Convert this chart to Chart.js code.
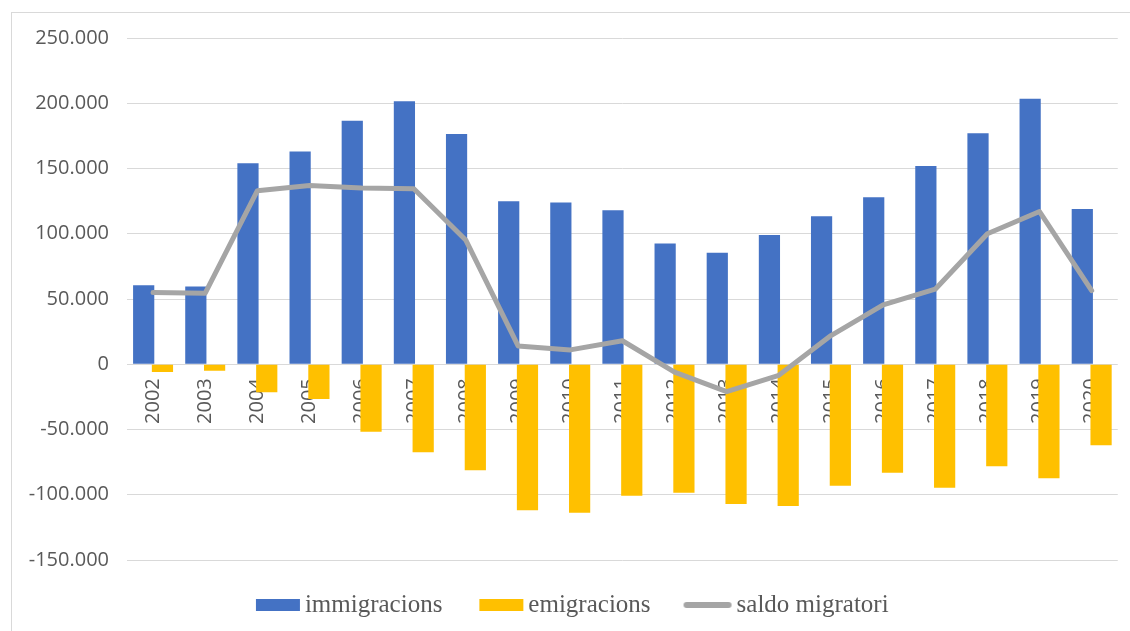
<!DOCTYPE html>
<html>
<head>
<meta charset="utf-8">
<script src="https://cdn.jsdelivr.net/npm/chart.js@4.4.1/dist/chart.umd.min.js"></script>
<style>
  body { margin: 0; background: #fff; overflow: hidden; }
  #frame { position: absolute; left: 11px; top: 12px; width: 1200px; height: 700px; border: 1px solid #d9d9d9; }
  #wrap { position: absolute; left: 0; top: 0; width: 1130px; height: 631px; }
</style>
</head>
<body>
<div id="frame"></div>
<div id="wrap"><canvas id="chart" width="1130" height="631"></canvas></div>
<script>
const years = ['2002', '2003', '2004', '2005', '2006', '2007', '2008', '2009', '2010', '2011',
  '2012', '2013', '2014', '2015', '2016', '2017', '2018', '2019', '2020'];
const immigracions = [60500, 59500, 154000, 163000, 186500, 201500, 176500, 125000, 124000, 118000,
  92500, 85500, 99000, 113500, 128000, 152000, 177000, 203500, 119000];
const emigracions = [-5900, -4900, -21500, -26600, -51700, -67500, -81300, -111800, -113800, -100800,
  -98500, -107100, -108700, -93100, -83100, -94600, -78200, -87400, -62100];
const saldo = [55000, 54500, 133000, 137000, 135000, 134500, 95000, 14000, 11000, 18000,
  -6000, -21000, -8500, 22000, 45500, 57500, 100000, 117000, 56500];
const labels = ['immigracions', 'emigracions', 'saldo migratori'];

const BLUE = '#4472c4', GOLD = '#ffc000', GREY = '#a5a5a5', TEXT = '#595959';
const SANS = '"Open Sans", sans-serif';
const SERIF = '"Liberation Serif", serif';

// legend swatches drawn on small canvases so the gaps match the original
function swatch(offset, w, h, color, isLine) {
  const c = document.createElement('canvas');
  c.width = 70; c.height = h;
  const g = c.getContext('2d');
  if (isLine) {
    g.strokeStyle = color; g.lineWidth = h; g.lineCap = 'round';
    g.beginPath(); g.moveTo(offset + h / 2, h / 2); g.lineTo(offset + w - h / 2, h / 2); g.stroke();
  } else {
    g.fillStyle = color; g.fillRect(offset, 0, w, h);
  }
  return c;
}
const swatches = [swatch(19, 44, 12, BLUE), swatch(19, 44, 12, GOLD), swatch(15, 48, 6, GREY, true)];

function fmt(v) {
  const s = String(Math.abs(v)).replace(/\B(?=(\d{3})+(?!\d))/g, '.');
  return v < 0 ? '-' + s : s;
}

function draw() {
  new Chart(document.getElementById('chart'), {
    type: 'bar',
    data: {
      labels: years,
      datasets: [
        { label: labels[0], data: immigracions, backgroundColor: BLUE, order: 1,
          categoryPercentage: 0.72, barPercentage: 1.13 },
        { label: labels[1], data: emigracions, backgroundColor: GOLD, order: 1,
          categoryPercentage: 0.72, barPercentage: 1.13 },
        { type: 'line', label: labels[2], data: saldo, borderColor: GREY, backgroundColor: GREY,
          borderWidth: 5, pointRadius: 0, tension: 0, borderJoinStyle: 'round', borderCapStyle: 'round', order: 0 }
      ]
    },
    options: {
      responsive: false,
      animation: false,
      devicePixelRatio: 1,
      layout: { padding: { left: 22, right: 12, top: 38, bottom: 3.5 } },
      plugins: {
        tooltip: { enabled: false },
        legend: {
          position: 'bottom',
          labels: {
            usePointStyle: true,
            pointStyleWidth: 41,
            boxHeight: 12,
            padding: 32.5,
            color: TEXT,
            font: { family: SERIF, size: 25 },
            sort: (a, b) => a.datasetIndex - b.datasetIndex,
            generateLabels: (chart) => Chart.defaults.plugins.legend.labels.generateLabels(chart)
              .map(item => Object.assign(item, { pointStyle: swatches[item.datasetIndex] }))
          }
        }
      },
      scales: {
        x: {
          position: { y: 0 },
          z: 1,
          grid: { display: false, drawTicks: false },
          border: { display: false },
          ticks: { autoSkip: false, minRotation: 90, maxRotation: 90, padding: 14, color: TEXT,
            font: { family: SANS, size: 20 } }
        },
        y: {
          min: -150000,
          max: 250000,
          afterFit: (scale) => { scale.width = 105; },
          grid: { color: '#d9d9d9', lineWidth: 1, drawTicks: false },
          border: { display: false },
          ticks: { stepSize: 50000, padding: 18, color: TEXT, callback: fmt,
            font: { family: SANS, size: 20 } }
        }
      }
    }
  });
}

Promise.all([document.fonts.load('20px "Open Sans"'), document.fonts.load('25px "Liberation Serif"')])
  .then(draw, draw);
</script>
</body>
</html>
